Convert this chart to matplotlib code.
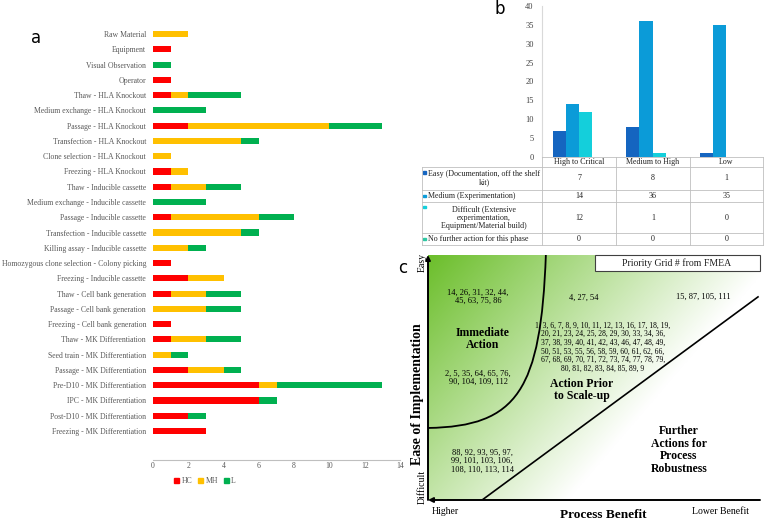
import matplotlib
matplotlib.use('Agg')
import matplotlib.pyplot as plt
import numpy as np
from matplotlib.patches import Rectangle, Patch, PathPatch
from matplotlib.path import Path

plt.rcParams['font.family'] = ['Liberation Serif', 'DejaVu Serif']

# ---------------- Panel a data ----------------
steps = [
    'Raw Material', 'Equipment', 'Visual Observation', 'Operator',
    'Thaw - HLA Knockout', 'Medium exchange - HLA Knockout', 'Passage - HLA Knockout',
    'Transfection - HLA Knockout', 'Clone selection - HLA Knockout', 'Freezing - HLA Knockout',
    'Thaw - Inducible cassette', 'Medium exchange - Inducible cassette',
    'Passage - Inducible cassette', 'Transfection - Inducible cassette',
    'Killing assay - Inducible cassette', 'Homozygous clone selection - Colony picking',
    'Freezing - Inducible cassette', 'Thaw - Cell bank generation',
    'Passage - Cell bank generation', 'Freezing - Cell bank generation',
    'Thaw - MK Differentiation', 'Seed train - MK Differentiation',
    'Passage - MK Differentiation', 'Pre-D10 - MK Differentiation',
    'IPC - MK Differentiation', 'Post-D10 - MK Differentiation', 'Freezing - MK Differentiation',
]
hc  = [0, 1, 0, 1, 1, 0, 2, 0, 0, 1, 1, 0, 1, 0, 0, 1, 2, 1, 0, 1, 1, 0, 2, 6, 6, 2, 3]
mh  = [2, 0, 0, 0, 1, 0, 8, 5, 1, 1, 2, 0, 5, 5, 2, 0, 2, 2, 3, 0, 2, 1, 2, 1, 0, 0, 0]
low = [0, 0, 1, 0, 3, 3, 3, 1, 0, 0, 2, 3, 2, 1, 1, 0, 0, 2, 2, 0, 2, 1, 1, 6, 1, 1, 0]
a_series = ['HC', 'MH', 'L']
a_xticks = [0, 2, 4, 6, 8, 10, 12, 14]

# ---------------- Panel b data ----------------
risk_levels = ['High to Critical', 'Medium to High', 'Low']
ease_labels = ['Easy (Documentation, off the shelf\nkit)', 'Medium (Experimentation)',
               'Difficult (Extensive\nexperimentation,\nEquipment/Material build)',
               'No further action for this phase']
easy = [7, 8, 1]
medium = [14, 36, 35]
difficult = [12, 1, 0]
no_action = [0, 0, 0]
b_yticks = [0, 5, 10, 15, 20, 25, 30, 35, 40]

# ---------------- Panel c text ----------------
grid_title = 'Priority Grid # from FMEA'
ids_immediate_easy = '14, 26, 31, 32, 44,\n45, 63, 75, 86'
ids_scaleup_easy = '4, 27, 54'
ids_robust_easy = '15, 87, 105, 111'
ids_immediate_med = '2, 5, 35, 64, 65, 76,\n90, 104, 109, 112'
ids_scaleup_med = ('1, 3, 6, 7, 8, 9, 10, 11, 12, 13, 16, 17, 18, 19,\n'
                   '20, 21, 23, 24, 25, 28, 29, 30, 33, 34, 36,\n'
                   '37, 38, 39, 40, 41, 42, 43, 46, 47, 48, 49,\n'
                   '50, 51, 53, 55, 56, 58, 59, 60, 61, 62, 66,\n'
                   '67, 68, 69, 70, 71, 72, 73, 74, 77, 78, 79,\n'
                   '80, 81, 82, 83, 84, 85, 89, 9')
ids_difficult = '88, 92, 93, 95, 97,\n99, 101, 103, 106,\n108, 110, 113, 114'

W, H = 765, 520
fig = plt.figure(figsize=(W / 100, H / 100), dpi=100)

def fx(px):
    return px / W

def fy(py):
    return 1 - py / H

# ================= Panel a =================
RED, YEL, GRN = '#FF0000', '#FFC000', '#00B050'
axa = fig.add_axes([fx(153), fy(460), (400 - 153) / W, (460 - 20.3) / H])
y = np.arange(len(steps))
hc_a, mh_a, low_a = np.array(hc), np.array(mh), np.array(low)
axa.barh(y, hc_a, height=0.4, color=RED)
axa.barh(y, mh_a, left=hc_a, height=0.4, color=YEL)
axa.barh(y, low_a, left=hc_a + mh_a, height=0.4, color=GRN)
axa.set_ylim(27.9, -0.9)
axa.set_xlim(0, 14)
axa.set_yticks(y)
axa.set_yticklabels(steps)
axa.set_xticks(a_xticks)
axa.tick_params(axis='y', length=0, pad=5, labelsize=5.6, labelcolor='#595959')
axa.tick_params(axis='x', length=0, pad=1.5, labelsize=5.6, labelcolor='#595959')
for s in ['top', 'right', 'left']:
    axa.spines[s].set_visible(False)
axa.spines['bottom'].set_color('#BFBFBF')
axa.spines['bottom'].set_linewidth(0.8)
handles = [Patch(color=c) for c in (RED, YEL, GRN)]
fig.legend(handles, a_series, loc='center', bbox_to_anchor=(fx(205), fy(481)), ncol=3,
           frameon=False, fontsize=5.6, handlelength=0.6, handleheight=0.6,
           handletextpad=0.3, columnspacing=0.8, labelcolor='#595959')
fig.text(fx(36), fy(38), 'a', fontsize=12, ha='center', va='center', family='DejaVu Sans')

# ================= Panel b =================
B_COLS = ['#1565C0', '#0B9BD8', '#14CFDB', '#2DC7A3']
axb = fig.add_axes([fx(542), fy(157), 221 / W, 151 / H])
xb = np.arange(len(risk_levels))
w = 0.178
for k, (vals, c) in enumerate(zip([easy, medium, difficult, no_action], B_COLS)):
    axb.bar(xb + (k - 1.5) * w, vals, width=w, color=c)
axb.set_xlim(-0.5, 2.5)
axb.set_ylim(0, 40)
axb.set_yticks(b_yticks)
axb.set_xticks([])
axb.tick_params(axis='y', length=0, pad=6, labelsize=6, labelcolor='#404040')
for s in ['top', 'right', 'bottom']:
    axb.spines[s].set_visible(False)
axb.spines['left'].set_color('#D9D9D9')
axb.spines['left'].set_linewidth(0.8)
fig.text(fx(500), fy(9), 'b', fontsize=12, ha='center', va='center', family='DejaVu Sans')

# table
axt = fig.add_axes([fx(421.7), fy(245), (763 - 421.7) / W, (245 - 157.3) / H])
axt.set_xlim(421.7, 763)
axt.set_ylim(245, 157.3)
axt.axis('off')
col_x = [542, 616, 690, 763]
row_y = [157.3, 166.7, 190, 201.7, 233.3, 245]
LC = '#BFBFBF'
axt.plot([542, 763], [row_y[0]] * 2, color=LC, lw=0.6, clip_on=False)
for ry in row_y[1:]:
    axt.plot([421.7, 763], [ry, ry], color=LC, lw=0.6, clip_on=False)
for cx in col_x:
    axt.plot([cx, cx], [row_y[0], row_y[-1]], color=LC, lw=0.6, clip_on=False)
axt.plot([421.7, 421.7], [row_y[1], row_y[-1]], color=LC, lw=0.6, clip_on=False)
centers = [(col_x[i] + col_x[i + 1]) / 2 for i in range(3)]
TS = 5.8
for cxx, lab in zip(centers, risk_levels):
    axt.text(cxx, (row_y[0] + row_y[1]) / 2, lab, ha='center', va='center', fontsize=TS, color='#222222')
rows_vals = [easy, medium, difficult, no_action]
for r, vals in enumerate(rows_vals):
    yc = (row_y[r + 1] + row_y[r + 2]) / 2
    for cxx, v in zip(centers, vals):
        axt.text(cxx, yc, str(v), ha='center', va='center', fontsize=TS, color='#222222')
# row labels
marker_y = [172.5, 196, 207, 239]
for r, lab in enumerate(ease_labels):
    yc = (row_y[r + 1] + row_y[r + 2]) / 2
    axt.add_patch(Rectangle((423.3, marker_y[r] - 1.4), 2.8, 2.8, color=B_COLS[r], clip_on=False))
    if '\n' in lab:
        axt.text(484, yc, lab, ha='center', va='center', fontsize=TS, color='#222222',
                 multialignment='center', linespacing=1.05)
    else:
        axt.text(427.5, yc, lab, ha='left', va='center', fontsize=TS, color='#222222')

# ================= Panel c =================
axc = fig.add_axes([fx(428), fy(500), 332 / W, 245 / H])
axc.set_xlim(0, 1)
axc.set_ylim(0, 1)
axc.axis('off')
xx, yy = np.meshgrid(np.linspace(0, 1, 400), np.linspace(0, 1, 300))
f = np.clip(1 - 0.95 * xx - 0.6 * (1 - yy), 0, 1)
green = np.array([0x6B, 0xBE, 0x2A]) / 255
img = 1 - f[..., None] * (1 - green)
axc.imshow(img, extent=(0, 1, 0, 1), origin='lower', aspect='auto', zorder=0)

curve = Path([(0, 0.294), (0.27, 0.30), (0.34, 0.45), (0.355, 1.0)],
             [Path.MOVETO, Path.CURVE4, Path.CURVE4, Path.CURVE4])
axc.add_patch(PathPatch(curve, fill=False, lw=1.3, color='black', zorder=2))
axc.plot([0.163, 0.994], [0, 0.829], color='black', lw=1.2, zorder=2)
axc.annotate('', xy=(0, 1.0), xytext=(0, 0),
             arrowprops=dict(arrowstyle='-|>', lw=1.4, color='black', mutation_scale=7,
                             shrinkA=0, shrinkB=0), annotation_clip=False)
axc.annotate('', xy=(0, 0), xytext=(1, 0),
             arrowprops=dict(arrowstyle='-|>', lw=1.4, color='black', mutation_scale=7,
                             shrinkA=0, shrinkB=0), annotation_clip=False)

axc.add_patch(Rectangle((0.503, 0.935), 0.497, 0.065, facecolor='white', edgecolor='#404040',
                        lw=0.8, zorder=3, clip_on=False))
axc.text(0.75, 0.967, grid_title, ha='center', va='center', fontsize=7, zorder=4, color='#222222')

NS = 6
axc.text(0.151, 0.829, ids_immediate_easy, ha='center', va='center', fontsize=NS, linespacing=1.1)
axc.text(0.47, 0.824, ids_scaleup_easy, ha='center', va='center', fontsize=NS)
axc.text(0.828, 0.829, ids_robust_easy, ha='center', va='center', fontsize=NS)
axc.text(0.151, 0.498, ids_immediate_med, ha='center', va='center', fontsize=NS, linespacing=1.1)
axc.text(0.527, 0.624, ids_scaleup_med, ha='center', va='center', fontsize=5.5, linespacing=1.1)
axc.text(0.163, 0.159, ids_difficult, ha='center', va='center', fontsize=NS, linespacing=1.1)
BS = 8.5
axc.text(0.163, 0.657, 'Immediate\nAction', ha='center', va='center', fontsize=BS,
         fontweight='bold', linespacing=1.05)
axc.text(0.464, 0.449, 'Action Prior\nto Scale-up', ha='center', va='center', fontsize=BS,
         fontweight='bold', linespacing=1.05)
axc.text(0.756, 0.204, 'Further\nActions for\nProcess\nRobustness', ha='center', va='center',
         fontsize=BS, fontweight='bold', linespacing=1.05)

fig.text(fx(432), fy(512), 'Higher', ha='left', va='center', fontsize=7)
fig.text(fx(603), fy(515), 'Process Benefit', ha='center', va='center', fontsize=9.5, fontweight='bold')
fig.text(fx(720), fy(512), 'Lower Benefit', ha='center', va='center', fontsize=7)
fig.text(fx(422), fy(263), 'Easy', ha='center', va='center', fontsize=7, rotation=90)
fig.text(fx(422), fy(487), 'Difficult', ha='center', va='center', fontsize=7, rotation=90)
fig.text(fx(418), fy(394), 'Ease of Implementation', ha='center', va='center', fontsize=10,
         fontweight='bold', rotation=90)
fig.text(fx(403), fy(268), 'c', fontsize=12, ha='center', va='center', family='DejaVu Sans')

fig.savefig('out.png', dpi=100)
